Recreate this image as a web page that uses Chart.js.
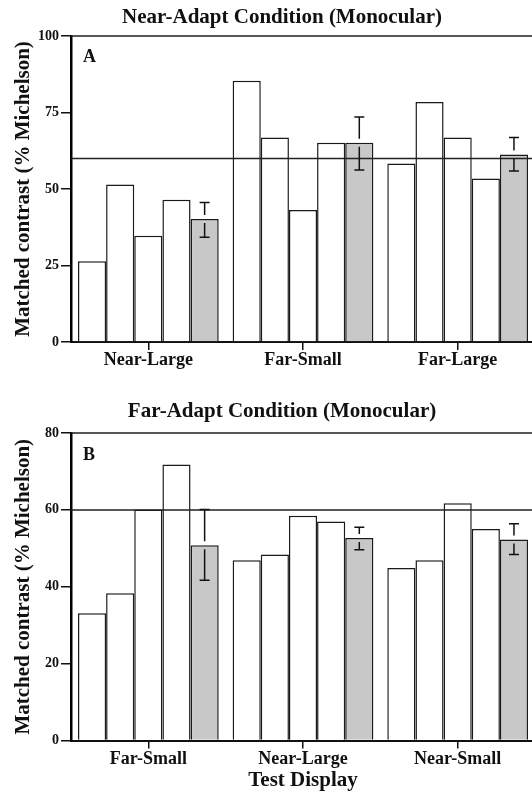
<!DOCTYPE html>
<html>
<head>
<meta charset="utf-8">
<script src="https://cdn.jsdelivr.net/npm/chart.js@4.4.1/dist/chart.umd.min.js"></script>
<style>
  html, body { margin: 0; padding: 0; background: #fff; overflow: hidden; }
  .panel { position: relative; width: 536px; }
  #top { height: 380px; }
  #bottom { height: 411px; }
</style>
</head>
<body>
<div class="panel" id="top"><canvas id="nearChart"></canvas></div>
<div class="panel" id="bottom"><canvas id="farChart"></canvas></div>
<script>
// Panel A - near-adapt condition
const nearCategories = ['Near-Large', 'Far-Small', 'Far-Large'];
const nearObs1 = [26.4, 85.4, 58.3];
const nearObs2 = [51.5, 66.8, 78.4];
const nearObs3 = [34.7, 43.1, 66.8];
const nearObs4 = [46.5, 65.1, 53.4];
const nearMean = [40.2, 65.1, 61.3];
const nearErrHigh = [45.6, 73.5, 66.8];
const nearErrLow = [34.2, 56.2, 55.9];
const nearTicks = [0, 25, 50, 75, 100];

// Panel B - far-adapt condition
const farCategories = ['Far-Small', 'Near-Large', 'Near-Small'];
const farObs1 = [33.1, 46.9, 44.9];
const farObs2 = [38.3, 48.4, 46.9];
const farObs3 = [60.1, 58.5, 61.7];
const farObs4 = [71.8, 57.0, 55.0];
const farMean = [50.8, 52.7, 52.3];
const farErrHigh = [60.1, 55.5, 56.4];
const farErrLow = [41.7, 49.6, 48.4];
const farTicks = [0, 20, 40, 60, 80];

const matchLevel = 60;

const serif = "'Liberation Serif', 'Times New Roman', serif";
Chart.defaults.font.family = serif;
Chart.defaults.font.weight = 'bold';
Chart.defaults.color = '#111';

// frame line, 60% line, error bars, title and panel letter
function decorations(panel) {
  return {
    id: 'decorations',
    afterDatasetsDraw(chart) {
      const { ctx, chartArea: a, scales: { y } } = chart;
      ctx.save();
      ctx.strokeStyle = '#222';
      ctx.lineWidth = 1.5;

      ctx.beginPath();
      ctx.moveTo(a.left, a.top);
      ctx.lineTo(a.right, a.top);
      const yRef = y.getPixelForValue(matchLevel);
      ctx.moveTo(a.left, yRef);
      ctx.lineTo(a.right, yRef);
      ctx.stroke();

      const meta = chart.getDatasetMeta(4);
      ctx.strokeStyle = '#111';
      meta.data.forEach((bar, i) => {
        const x = bar.x;
        const yHi = y.getPixelForValue(panel.errHigh[i]);
        const yLo = y.getPixelForValue(panel.errLow[i]);
        const gap = 4;
        ctx.beginPath();
        ctx.moveTo(x - 5, yHi); ctx.lineTo(x + 5, yHi);
        ctx.moveTo(x, yHi); ctx.lineTo(x, bar.y - gap);
        ctx.moveTo(x, bar.y + gap); ctx.lineTo(x, yLo);
        ctx.moveTo(x - 5, yLo); ctx.lineTo(x + 5, yLo);
        ctx.stroke();
      });

      ctx.fillStyle = '#111';
      ctx.textBaseline = 'middle';
      ctx.textAlign = 'center';
      ctx.font = 'bold 21px ' + serif;
      ctx.fillText(panel.title, 282, panel.titleY);

      ctx.textAlign = 'left';
      ctx.font = 'bold 18px ' + serif;
      ctx.fillText(panel.letter, a.left + 12, a.top + panel.letterDy);
      ctx.restore();
    }
  };
}

function makeChart(canvasId, panel) {
  const white = { backgroundColor: '#ffffff', borderColor: '#1a1a1a', borderWidth: 1.5 };
  const datasets = panel.series.map(s => Object.assign({ data: s }, white));
  datasets.push({ data: panel.mean, backgroundColor: '#c8c8c8', borderColor: '#1a1a1a', borderWidth: 1.5 });

  return new Chart(document.getElementById(canvasId), {
    type: 'bar',
    data: { labels: panel.categories, datasets },
    plugins: [decorations(panel)],
    options: {
      responsive: true,
      maintainAspectRatio: false,
      devicePixelRatio: 1,
      animation: false,
      layout: { padding: { top: panel.padTop, right: 1, left: 0, bottom: 0 } },
      datasets: { bar: { barPercentage: 1, categoryPercentage: 0.91 } },
      plugins: {
        legend: { display: false },
        tooltip: { enabled: false }
      },
      scales: {
        x: {
          offset: true,
          grid: { offset: false, drawOnChartArea: false, tickLength: 8, color: '#111', lineWidth: 1.5 },
          border: { color: '#111', width: 2 },
          ticks: { font: { size: 18, weight: 'bold' }, color: '#111', padding: 0 },
          title: {
            display: !!panel.xTitle,
            text: panel.xTitle || '',
            font: { size: 21, weight: 'bold', lineHeight: 1 },
            padding: 0,
            color: '#111'
          },
          afterFit: s => { s.height = panel.xHeight; }
        },
        y: {
          min: panel.ticks[0],
          max: panel.ticks[panel.ticks.length - 1],
          afterBuildTicks: s => { s.ticks = panel.ticks.map(v => ({ value: v })); },
          grid: { drawOnChartArea: false, tickLength: 10, color: '#111', lineWidth: 1.5 },
          border: { color: '#000', width: 2.5 },
          ticks: { font: { size: 14, weight: 'bold' }, color: '#111', padding: 2 },
          title: {
            display: true,
            text: 'Matched contrast (% Michelson)',
            font: { size: 21, weight: 'bold' },
            padding: { top: 11 },
            color: '#111'
          },
          afterFit: s => { s.width = 71; }
        }
      }
    }
  });
}

makeChart('nearChart', {
  title: 'Near-Adapt Condition (Monocular)',
  titleY: 18,
  letter: 'A',
  letterDy: 21,
  padTop: 36,
  xHeight: 38,
  categories: nearCategories,
  series: [nearObs1, nearObs2, nearObs3, nearObs4],
  mean: nearMean,
  errHigh: nearErrHigh,
  errLow: nearErrLow,
  ticks: nearTicks
});

makeChart('farChart', {
  title: 'Far-Adapt Condition (Monocular)',
  titleY: 32,
  letter: 'B',
  letterDy: 22,
  padTop: 53,
  xHeight: 50.5,
  xTitle: 'Test Display',
  categories: farCategories,
  series: [farObs1, farObs2, farObs3, farObs4],
  mean: farMean,
  errHigh: farErrHigh,
  errLow: farErrLow,
  ticks: farTicks
});
</script>
</body>
</html>
